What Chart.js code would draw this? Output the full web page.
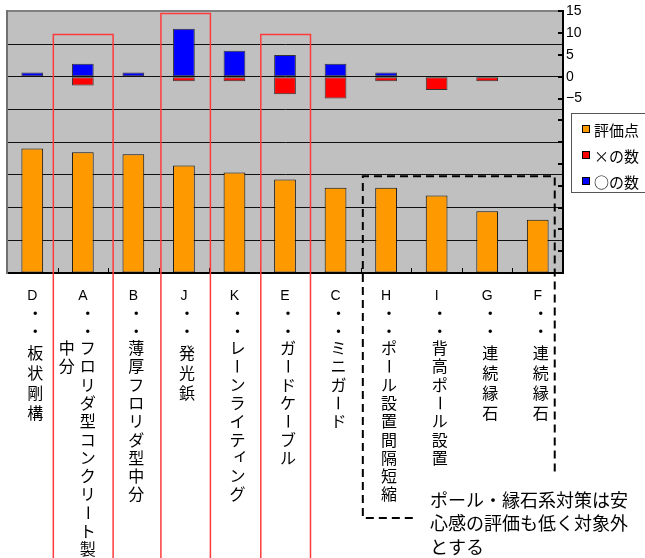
<!DOCTYPE html>
<html><head><meta charset="utf-8">
<script src="https://cdn.jsdelivr.net/npm/chart.js@4/dist/chart.umd.min.js"></script>
<style>html,body{margin:0;padding:0;background:#fff;overflow:hidden}#wrap{width:645px;height:558px;position:relative}</style>
</head><body><div id="wrap"><canvas id="c" width="645" height="558"></canvas></div>
<script>
// ---- data ----
const categories = ['D','A','B','J','K','E','C','H','I','G','F'];
const categoryNames = ['D・・板状剛構','A・・フロリダ型コンクリート製中分','B・・薄厚フロリダ型中分','J・・発光鋲','K・・レーンライティング','E・・ガードケーブル','C・・ミニガード','H・・ポール設置間隔短縮','I・・背高ポール設置','G・・連続縁石','F・・連続縁石'];
const seriesNames = ['評価点','×の数','○の数'];
const scoreValues = [3.81,3.69,3.63,3.29,3.07,2.86,2.61,2.61,2.37,1.89,1.63];
const crossCounts = [null,-2,null,-1,-1,-4,-5,-1,-3,-1,null];
const circleCounts = [1,3,1,11,6,5,3,1,null,null,null];
const rightTickLabelMin = -5;
const noteLines = ['ポール・縁石系対策は安','心感の評価も低く対象外','とする'];
const highlighted = ['A','J','E'];

const CJK = '"Noto Sans CJK JP","Noto Sans CJK SC",sans-serif';
const colors = ['#FF9900','#FF0000','#0000FF'];

const bgPlugin = {
  id:'bg',
  beforeDraw(c){
    const {ctx, chartArea:a} = c;
    ctx.save(); ctx.fillStyle='#C0C0C0';
    ctx.fillRect(a.left,a.top,a.right-a.left,a.bottom-a.top);
    ctx.restore();
  }
};

function drawChar(ctx, ch, x, y){
  ctx.save();
  if (/[A-Za-z]/.test(ch)) {
    ctx.font = '14px "Liberation Sans",Arial,sans-serif';
    ctx.fillText(ch, x, y+1);
  } else if (ch === 'ー') {
    ctx.font = '16px '+CJK;
    ctx.translate(x, y); ctx.rotate(Math.PI/2);
    ctx.fillText(ch, 0, 0);
  } else if ('ァィゥェォッャュョ'.includes(ch)) {
    ctx.font = '16px '+CJK;
    ctx.fillText(ch, x+3, y-3);
  } else {
    ctx.font = '16px '+CJK;
    ctx.fillText(ch, x, y);
  }
  ctx.restore();
}

const overlayPlugin = {
  id:'overlay',
  afterDraw(c){
    const {ctx, chartArea:a} = c;
    const xs = c.scales.x, ys = c.scales.y, y2 = c.scales.y2;
    ctx.save();
    // inner tick marks on right axis
    ctx.strokeStyle='#000'; ctx.lineWidth=2;
    y2.ticks.forEach(t=>{
      const py = Math.round(y2.getPixelForValue(t.value));
      ctx.beginPath(); ctx.moveTo(a.right-5, py); ctx.lineTo(a.right, py); ctx.stroke();
    });
    // inner tick marks on category axis
    ctx.lineWidth=1;
    for (let i=1;i<categories.length;i++){
      const px = Math.round((xs.getPixelForValue(i-1)+xs.getPixelForValue(i))/2)+0.5;
      ctx.beginPath(); ctx.moveTo(px, a.bottom-5); ctx.lineTo(px, a.bottom); ctx.stroke();
    }
    // vertical category labels
    ctx.fillStyle='#000'; ctx.textAlign='center'; ctx.textBaseline='middle';
    const maxRows = 15;
    categoryNames.forEach((name,i)=>{
      const cx = xs.getPixelForValue(i);
      const chars = Array.from(name);
      const col1 = chars.slice(0,maxRows), col2 = chars.slice(maxRows);
      const rest = chars.slice(3);
      const allKanji = rest.every(ch=>/[\u4e00-\u9fff]/.test(ch)) && rest.length<=4;
      const step = allKanji ? 20 : 18.3;
      const start = allKanji ? 353 : 348;
      const mainX = col2.length ? cx+5 : cx+3;
      const rowY = k => k===0 ? 295 : k===1 ? 313 : k===2 ? 331 : start+(k-3)*step;
      col1.forEach((ch,k)=>{
        drawChar(ctx, ch, k===0 ? cx : mainX, rowY(k));
      });
      col2.forEach((ch,k)=>{
        drawChar(ctx, ch, cx-16, rowY(k+3));
      });
    });
    // red highlight frames
    ctx.strokeStyle='#ff3b3b'; ctx.lineWidth=1.5;
    const frameSpec = {A:{top:9.7,l:-29.5,r:30.3},J:{top:14.5,l:-23,r:26.5},E:{top:9.7,l:-24.2,r:25.5}};
    highlighted.forEach(k=>{
      const i = categories.indexOf(k), f = frameSpec[k];
      const cx = xs.getPixelForValue(i);
      const top = y2.getPixelForValue(f.top);
      ctx.beginPath();
      ctx.moveTo(cx+f.l, c.height); ctx.lineTo(cx+f.l, top); ctx.lineTo(cx+f.r, top); ctx.lineTo(cx+f.r, c.height);
      ctx.stroke();
    });
    // dashed group frame
    const gi0 = categories.indexOf('H'), gi1 = categories.indexOf('F');
    const gl = (xs.getPixelForValue(gi0-1)+xs.getPixelForValue(gi0))/2 + 2;
    const gr = xs.getPixelForValue(gi1) + 17;
    const gt = ys.getPixelForValue(2.96);
    ctx.strokeStyle='#000'; ctx.lineWidth=2; ctx.setLineDash([8,5]);
    ctx.beginPath();
    ctx.moveTo(gl+50, 518); ctx.lineTo(gl, 518); ctx.lineTo(gl, gt); ctx.lineTo(gr, gt); ctx.lineTo(gr, 473);
    ctx.stroke();
    ctx.setLineDash([]);
    // note text
    ctx.textAlign='left'; ctx.textBaseline='middle'; ctx.font='18px '+CJK; ctx.fillStyle='#000';
    noteLines.forEach((t,k)=> ctx.fillText(t, 430, 500 + k*23.5));
    // legend
    const lx=571, ly=113, lw=90, lh=79;
    ctx.fillStyle='#fff'; ctx.fillRect(lx,ly,lw,lh);
    ctx.strokeStyle='#555'; ctx.lineWidth=1; ctx.strokeRect(lx+0.5, ly+0.5, lw, lh);
    c.data.datasets.forEach((ds,k)=>{
      const ry = 129 + k*26;
      ctx.fillStyle = ds.backgroundColor; ctx.fillRect(582, ry-4, 8, 8);
      ctx.strokeStyle='#000'; ctx.strokeRect(582.5, ry-3.5, 7, 7);
      ctx.fillStyle='#000'; ctx.font='15px '+CJK;
      ctx.fillText(ds.label, 594, ry+1);
    });
    ctx.restore();
  }
};

const common = {grouped:false, barPercentage:0.43, categoryPercentage:1, borderSkipped:false, borderWidth:1};
new Chart(document.getElementById('c').getContext('2d'), {
  type:'bar',
  data:{
    labels: categories,
    datasets:[
      Object.assign({label:seriesNames[0], data:scoreValues, yAxisID:'y', backgroundColor:colors[0], borderColor:'#111'}, common),
      Object.assign({label:seriesNames[1], data:crossCounts, yAxisID:'y2', backgroundColor:colors[1], borderColor:'#333'}, common),
      Object.assign({label:seriesNames[2], data:circleCounts, yAxisID:'y2', backgroundColor:colors[2], borderColor:'#333'}, common)
    ]
  },
  options:{
    responsive:false, animation:false, devicePixelRatio:1,
    layout:{padding:{left:7, top:10, right:0, bottom:285}},
    plugins:{legend:{display:false}, tooltip:{enabled:false}},
    scales:{
      x:{ticks:{display:false}, grid:{display:true, drawOnChartArea:false, drawTicks:false}, border:{display:true, color:'#000', width:2}},
      y:{position:'left', min:0, max:8, ticks:{display:false, stepSize:1},
         grid:{color:ctx=>ctx.tick && ctx.tick.value===8 ? '#808080' : '#111', lineWidth:ctx=>ctx.tick && ctx.tick.value===8 ? 2 : 1, drawTicks:false},
         border:{display:true, color:'#707070', width:2},
         afterFit:s=>{s.width=0;}},
      y2:{position:'right', min:-45, max:15,
          ticks:{stepSize:5, padding:3, color:'#000', autoSkip:false,
                 font:{family:'"Liberation Sans Narrow","Arial Narrow","Liberation Sans",sans-serif', size:14},
                 callback:v=> v>=rightTickLabelMin ? (v<0 ? '−'+Math.abs(v) : String(v)) : ''},
          grid:{drawOnChartArea:false, drawTicks:false},
          border:{display:true, color:'#000', width:2},
          afterFit:s=>{s.width=82;}}
    }
  },
  plugins:[bgPlugin, overlayPlugin]
});
</script></body></html>
